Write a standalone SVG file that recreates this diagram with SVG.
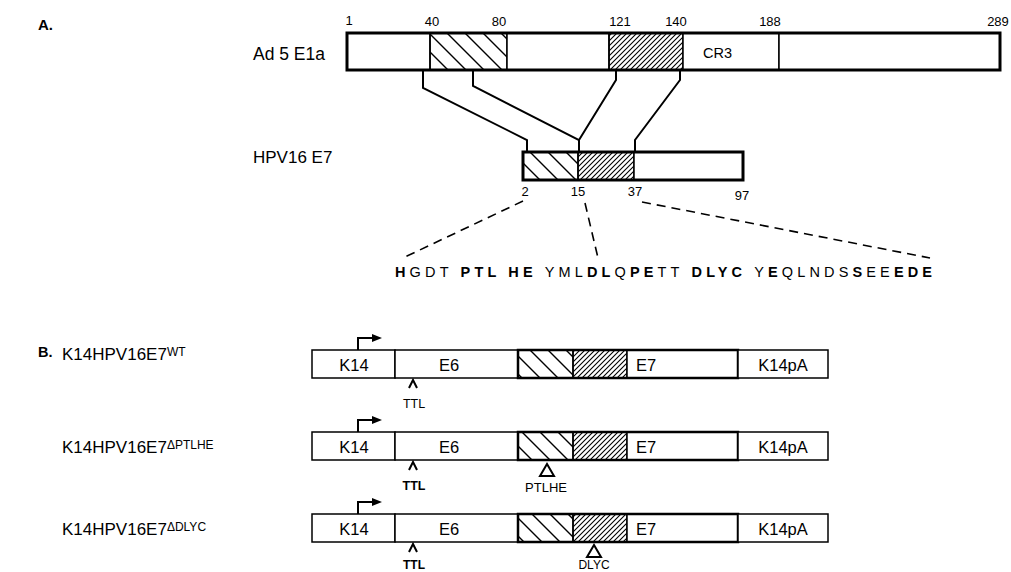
<svg xmlns="http://www.w3.org/2000/svg" width="1011" height="572" viewBox="0 0 1011 572">
<style>
.t{font-family:"Liberation Sans",Arial,sans-serif;fill:#000}
.thin{fill:#fff;stroke:#000;stroke-width:1.5}
.thick{fill:none;stroke:#000;stroke-width:3}
.mid{fill:none;stroke:#000;stroke-width:2.5}
.conn{fill:none;stroke:#000;stroke-width:2}
.dash{fill:none;stroke:#000;stroke-width:1.6;stroke-dasharray:9 6}
.num{font-size:13px;text-anchor:middle}
.b{font-weight:bold}
</style>
<defs>
<pattern id="bs" width="18" height="18" patternUnits="userSpaceOnUse"><path d="M-3,-3 L21,21 M-3,15 L3,21 M15,-3 L21,3" stroke="#000" stroke-width="1.4"/></pattern>
<pattern id="fs" width="5" height="5" patternUnits="userSpaceOnUse"><path d="M-1,6 L6,-1 M-1,1 L1,-1 M4,6 L6,4" stroke="#000" stroke-width="1.1"/></pattern>
<marker id="arr" viewBox="0 0 10 8" refX="2" refY="4" markerWidth="10" markerHeight="8" markerUnits="userSpaceOnUse" orient="auto"><path d="M0,0 L10,4 L0,8 Z" fill="#000"/></marker>
</defs>
<rect width="1011" height="572" fill="#fff"/>

<text class="t b" x="38" y="30" font-size="15">A.</text>

<g id="e1a">
<text class="t" x="253" y="60" font-size="17.5">Ad 5 E1a</text>
<rect class="thin" x="347" y="33" width="83" height="37"/>
<rect x="430" y="33" width="77" height="37" fill="url(#bs)" stroke="#000" stroke-width="1.5"/>
<rect class="thin" x="507" y="33" width="102" height="37"/>
<rect x="609" y="33" width="74" height="37" fill="url(#fs)" stroke="#000" stroke-width="1.5"/>
<rect class="thin" x="683" y="33" width="96" height="37"/>
<rect class="thin" x="779" y="33" width="221" height="37"/>
<rect class="thick" x="347" y="33" width="653" height="37"/>
<text class="t" x="703" y="58" font-size="14.5">CR3</text>
<text class="t num" x="349" y="25">1</text>
<text class="t num" x="432" y="26">40</text>
<text class="t num" x="499" y="26">80</text>
<text class="t num" x="620" y="26">121</text>
<text class="t num" x="676" y="26">140</text>
<text class="t num" x="770" y="26">188</text>
<text class="t num" x="998" y="26">289</text>
</g>

<g id="e7a">
<text class="t" x="253" y="163" font-size="17">HPV16 E7</text>
<rect x="523" y="152" width="55" height="28" fill="url(#bs)" stroke="#000" stroke-width="1.5"/>
<rect x="578" y="152" width="56" height="28" fill="url(#fs)" stroke="#000" stroke-width="1.5"/>
<rect class="thin" x="634" y="152" width="109" height="28"/>
<rect class="thick" x="523" y="152" width="220" height="28"/>
<text class="t num" x="525" y="196">2</text>
<text class="t num" x="578" y="196">15</text>
<text class="t num" x="635" y="196">37</text>
<text class="t num" x="742" y="200">97</text>
</g>

<g id="connectors">
<path class="conn" d="M423,70 V88 L527,140 V152"/>
<path class="conn" d="M473,70 V86 L579,140 V152"/>
<path class="conn" d="M616,70 V80 L579,140"/>
<path class="conn" d="M680,70 V80 L635,140 V152"/>
<path class="dash" d="M523,201 L405,257"/>
<path class="dash" d="M585,203 L598,258"/>
<path class="dash" d="M642,202 L930,258"/>
</g>

<g id="sequence">
<text class="t" x="395" y="277" font-size="14.5" textLength="537" lengthAdjust="spacing"><tspan class="b">H</tspan>GDT <tspan class="b">PTL HE</tspan> YML<tspan class="b">DL</tspan>Q<tspan class="b">PE</tspan>TT <tspan class="b">DLYC</tspan> Y<tspan class="b">E</tspan>QLNDS<tspan class="b">S</tspan>EE<tspan class="b">EDE</tspan></text>
</g>

<text class="t b" x="38" y="357" font-size="14.5">B.</text>

<g id="row-wt">
<text class="t" x="62" y="360" font-size="17">K14HPV16E7<tspan font-size="12" dy="-4">WT</tspan></text>
<rect class="thin" x="312" y="350" width="83" height="28"/>
<rect class="thin" x="395" y="350" width="123" height="28"/>
<rect x="518" y="350" width="55" height="28" fill="url(#bs)" stroke="#000" stroke-width="1.5"/>
<rect x="573" y="350" width="54" height="28" fill="url(#fs)" stroke="#000" stroke-width="1.5"/>
<rect class="thin" x="627" y="350" width="111" height="28"/>
<rect class="mid" x="518" y="350" width="220" height="28"/>
<rect class="thin" x="738" y="350" width="90" height="28"/>
<text class="t" x="354" y="371" font-size="16.5" text-anchor="middle">K14</text>
<text class="t" x="449" y="371" font-size="16.5" text-anchor="middle">E6</text>
<text class="t" x="636" y="371" font-size="16.5">E7</text>
<text class="t" x="783" y="371" font-size="16.5" text-anchor="middle">K14pA</text>
<path class="conn" d="M358,350 V338 H374" marker-end="url(#arr)"/>
<path class="conn" d="M409,388 L413,380 L417,388"/>
<text class="t" x="414" y="408" font-size="12.5" text-anchor="middle">TTL</text>
</g>

<g id="row-ptlhe">
<text class="t" x="62" y="453" font-size="17">K14HPV16E7<tspan font-size="12" dy="-4">ΔPTLHE</tspan></text>
<rect class="thin" x="312" y="432" width="83" height="28"/>
<rect class="thin" x="395" y="432" width="123" height="28"/>
<rect x="518" y="432" width="55" height="28" fill="url(#bs)" stroke="#000" stroke-width="1.5"/>
<rect x="573" y="432" width="54" height="28" fill="url(#fs)" stroke="#000" stroke-width="1.5"/>
<rect class="thin" x="627" y="432" width="111" height="28"/>
<rect class="mid" x="518" y="432" width="220" height="28"/>
<rect class="thin" x="738" y="432" width="90" height="28"/>
<text class="t" x="354" y="453" font-size="16.5" text-anchor="middle">K14</text>
<text class="t" x="449" y="453" font-size="16.5" text-anchor="middle">E6</text>
<text class="t" x="636" y="453" font-size="16.5">E7</text>
<text class="t" x="783" y="453" font-size="16.5" text-anchor="middle">K14pA</text>
<path class="conn" d="M358,432 V420 H374" marker-end="url(#arr)"/>
<path class="conn" d="M409,470 L413,462 L417,470"/>
<text class="t b" x="414" y="490" font-size="12.5" text-anchor="middle">TTL</text>
<path class="conn" d="M540,476 L547,464 L554,476 Z"/>
<text class="t" x="546" y="492" font-size="13" text-anchor="middle">PTLHE</text>
</g>

<g id="row-dlyc">
<text class="t" x="62" y="535" font-size="17">K14HPV16E7<tspan font-size="12" dy="-4">ΔDLYC</tspan></text>
<rect class="thin" x="312" y="514" width="83" height="28"/>
<rect class="thin" x="395" y="514" width="123" height="28"/>
<rect x="518" y="514" width="55" height="28" fill="url(#bs)" stroke="#000" stroke-width="1.5"/>
<rect x="573" y="514" width="54" height="28" fill="url(#fs)" stroke="#000" stroke-width="1.5"/>
<rect class="thin" x="627" y="514" width="111" height="28"/>
<rect class="mid" x="518" y="514" width="220" height="28"/>
<rect class="thin" x="738" y="514" width="90" height="28"/>
<text class="t" x="354" y="535" font-size="16.5" text-anchor="middle">K14</text>
<text class="t" x="449" y="535" font-size="16.5" text-anchor="middle">E6</text>
<text class="t" x="636" y="535" font-size="16.5">E7</text>
<text class="t" x="783" y="535" font-size="16.5" text-anchor="middle">K14pA</text>
<path class="conn" d="M358,514 V502 H374" marker-end="url(#arr)"/>
<path class="conn" d="M409,552 L413,544 L417,552"/>
<text class="t b" x="414" y="569" font-size="12" text-anchor="middle">TTL</text>
<path class="conn" d="M587,557 L594,545 L601,557 Z"/>
<text class="t" x="594" y="569" font-size="12" text-anchor="middle">DLYC</text>
</g>
</svg>
